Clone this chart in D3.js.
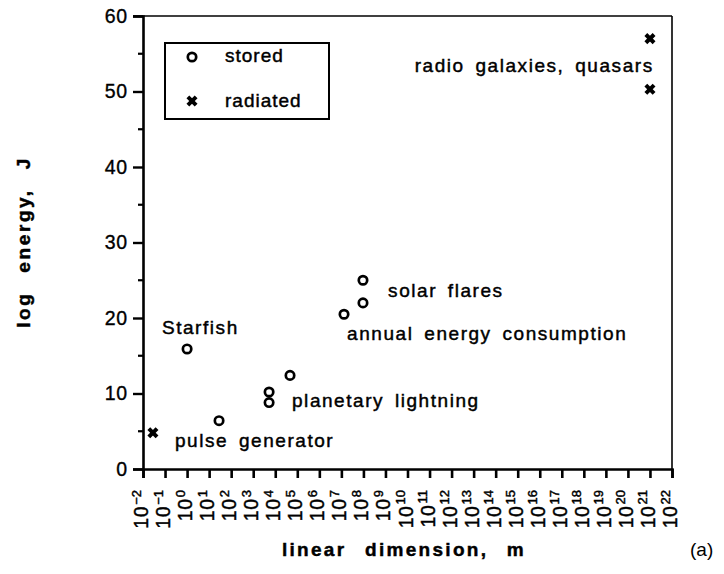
<!DOCTYPE html>
<html>
<head>
<meta charset="utf-8">
<script src="https://cdn.jsdelivr.net/npm/d3@7"></script>
<style>
  html, body { margin: 0; padding: 0; background: #fff; }
  svg { display: block; }
  text { font-family: "Liberation Sans", Arial, Helvetica, sans-serif; fill: #000; }
</style>
</head>
<body>
<svg id="chart" width="724" height="574"></svg>
<script>
// Energy scales of electrical discharge phenomena
// x: log10 of linear dimension (m), y: log10 of energy (J)

const storedLogSize   = [0, 1.45, 3.72, 3.72, 4.67, 7.12, 7.98, 7.98];
const storedLogEnergy = [15.9, 6.4, 10.2, 8.8, 12.4, 20.5, 22.0, 25.0];

const radiatedLogSize   = [-1.55, 21, 21];
const radiatedLogEnergy = [4.8, 57.0, 50.3];

const xTickExponents = d3.range(-2, 23);        // 10^-2 ... 10^22
const yTickValues    = [0, 10, 20, 30, 40, 50, 60];
const yMinorValues   = [5, 15, 25, 35, 45, 55];

const annotationText = ["Starfish", "pulse generator", "planetary lightning",
                        "solar flares", "annual energy consumption",
                        "radio galaxies, quasars"];
const annotationLogSize   = [-1.14, -0.55, 4.76, 9.12, 7.26, 21.17];
const annotationLogEnergy = [17.9, 2.9, 8.2, 22.8, 17.1, 52.6];
const annotationAnchor    = ["start", "start", "start", "start", "start", "end"];

const legendLabels = ["stored", "radiated"];

const svg = d3.select("#chart");
const plotLeft = 143, plotRight = 672, plotTop = 16, plotBottom = 469;

const x = d3.scaleLinear().domain([-2, 22]).range([plotLeft, plotRight]);
const y = d3.scaleLinear().domain([0, 60]).range([plotBottom, plotTop]);

const ink = "#000";
const heavy = sel => sel.attr("stroke", ink).attr("stroke-width", 0.45);

// frame: top and right edges (thinner)
svg.append("line").attr("x1", plotLeft - 10).attr("x2", plotRight).attr("y1", plotTop).attr("y2", plotTop)
  .attr("stroke", ink).attr("stroke-width", 1.6);
svg.append("line").attr("x1", plotRight).attr("x2", plotRight).attr("y1", plotTop).attr("y2", plotBottom)
  .attr("stroke", ink).attr("stroke-width", 1.6);

// y axis
const yAxis = svg.append("g").attr("transform", `translate(${plotLeft},0)`)
  .call(d3.axisLeft(y).tickValues(yTickValues).tickSize(10).tickPadding(5).tickFormat(d3.format("d")));
yAxis.select(".domain").attr("stroke", ink).attr("stroke-width", 2.6);
yAxis.selectAll(".tick line").attr("stroke", ink).attr("stroke-width", 2.4);
yAxis.selectAll(".tick text").attr("font-size", 19.5).attr("letter-spacing", 0.8)
  .attr("font-family", "Liberation Sans, Arial, sans-serif").attr("fill", ink)
  .attr("stroke", ink).attr("stroke-width", 0.35);
svg.append("g").selectAll("line").data(yMinorValues).join("line")
  .attr("x1", plotLeft - 5).attr("x2", plotLeft).attr("y1", d => y(d)).attr("y2", d => y(d))
  .attr("stroke", ink).attr("stroke-width", 2.2);

// x axis
const xAxis = svg.append("g").attr("transform", `translate(0,${plotBottom})`)
  .call(d3.axisBottom(x).tickValues(xTickExponents).tickSize(9).tickFormat(""));
xAxis.select(".domain").attr("stroke", ink).attr("stroke-width", 2.6);
xAxis.selectAll(".tick line").attr("stroke", ink).attr("stroke-width", 2.6);

// rotated power-of-ten tick labels
const xLabels = svg.append("g").selectAll("text").data(xTickExponents).join("text")
  .attr("transform", d => `translate(${x(d) + 5},490) rotate(-90)`)
  .attr("text-anchor", "end")
  .attr("font-size", 19.5)
  .call(heavy);
xLabels.append("tspan").attr("letter-spacing", 0.6).text("10");
xLabels.append("tspan").attr("dy", -7.5).attr("dx", 1).attr("font-size", 13)
  .text(d => d < 0 ? "\u2212" + Math.abs(d) : String(d));

// stored energy (open circles)
svg.append("g").selectAll("circle").data(storedLogSize).join("circle")
  .attr("cx", d => x(d)).attr("cy", (d, i) => y(storedLogEnergy[i])).attr("r", 4.2)
  .attr("fill", "#fff").attr("stroke", ink).attr("stroke-width", 2.7);

// radiated energy (bold crosses)
const cross = d3.symbol(d3.symbolTimes, 46)();
svg.append("g").selectAll("path").data(radiatedLogSize).join("path")
  .attr("d", cross)
  .attr("transform", (d, i) => `translate(${x(d)},${y(radiatedLogEnergy[i])})`)
  .attr("fill", "none").attr("stroke", ink).attr("stroke-width", 4);

// annotations
svg.append("g").selectAll("text").data(annotationText).join("text")
  .attr("x", (d, i) => x(annotationLogSize[i])).attr("y", (d, i) => y(annotationLogEnergy[i]))
  .attr("text-anchor", (d, i) => annotationAnchor[i])
  .attr("font-size", 19).attr("letter-spacing", 1.55).attr("word-spacing", 4)
  .call(heavy)
  .text(d => d);

// legend
const legend = svg.append("g");
legend.append("rect").attr("x", 165).attr("y", 43).attr("width", 164).attr("height", 76)
  .attr("fill", "none").attr("stroke", ink).attr("stroke-width", 2);
legend.append("circle").attr("cx", 192).attr("cy", 57).attr("r", 4.2)
  .attr("fill", "#fff").attr("stroke", ink).attr("stroke-width", 2.7);
legend.append("path").attr("d", cross).attr("transform", "translate(192,101)")
  .attr("fill", "none").attr("stroke", ink).attr("stroke-width", 4);
legend.selectAll("text").data(legendLabels).join("text")
  .attr("x", 225).attr("y", (d, i) => i === 0 ? 62 : 107)
  .attr("font-size", 19).attr("letter-spacing", 1).call(heavy).text(d => d);

// axis titles
svg.append("text").attr("transform", "translate(30,242) rotate(-90)")
  .attr("text-anchor", "middle").attr("font-size", 19).attr("font-weight", "bold")
  .attr("letter-spacing", 2.6).attr("word-spacing", 11).call(heavy)
  .text("log energy, J");
svg.append("text").attr("x", 404).attr("y", 556)
  .attr("text-anchor", "middle").attr("font-size", 19).attr("font-weight", "bold")
  .attr("letter-spacing", 2.3).attr("word-spacing", 11).call(heavy)
  .text("linear dimension, m");
svg.append("text").attr("x", 690).attr("y", 556)
  .attr("font-family", "Liberation Serif, Times New Roman, serif").attr("font-size", 19)
  .text("(a)");
</script>
</body>
</html>
